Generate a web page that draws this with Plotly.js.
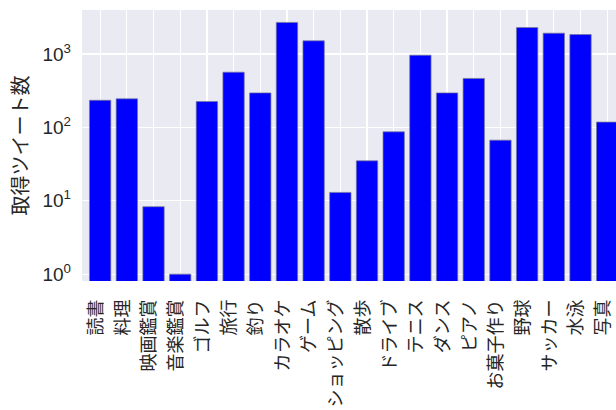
<!DOCTYPE html>
<html>
<head>
<meta charset="utf-8">
<script src="https://cdn.plot.ly/plotly-3.0.1.min.js"></script>
<style>html,body{margin:0;padding:0;background:#fff;}#chart{width:616px;height:410px;}</style>
</head>
<body>
<div id="chart"></div>
<script>
const categories = ['読書','料理','映画鑑賞','音楽鑑賞','ゴルフ','旅行','釣り','カラオケ','ゲーム','ショッピング','散歩','ドライブ','テニス','ダンス','ピアノ','お菓子作り','野球','サッカー','水泳','写真'];
const tweetCounts = [234, 245, 8.3, 1, 225, 565, 295, 2690, 1510, 13, 35, 87, 963, 295, 464, 67, 2290, 1920, 1840, 118];
const yTickVals = [1, 10, 100, 1000];
const yTickText = ['10<sup>0</sup>', '10<sup>1</sup>', '10<sup>2</sup>', '10<sup>3</sup>'];
const yTitle = '取得ツイート数';

const positions = categories.map((_, i) => i);
const xRange = [-0.68, 19.33];
const labelShift = 0.15;

const bars = {
  type: 'bar',
  x: positions,
  y: tweetCounts,
  width: 0.8,
  marker: { color: '#0000FF', line: { color: 'rgba(120,120,150,0.7)', width: 1 } },
  hoverinfo: 'x+y'
};
// invisible carrier so the label axis is drawn
const labelCarrier = {
  type: 'scatter',
  mode: 'none',
  x: positions,
  y: tweetCounts,
  xaxis: 'x2',
  hoverinfo: 'skip',
  showlegend: false
};

const layout = {
  width: 616, height: 410,
  margin: { l: 82, r: 0, t: 10, b: 129 },
  paper_bgcolor: '#ffffff',
  plot_bgcolor: '#EAEAF2',
  showlegend: false,
  bargap: 0.2,
  xaxis: {
    range: xRange,
    tickmode: 'array',
    tickvals: positions,
    showticklabels: false,
    showgrid: true, gridcolor: '#ffffff', gridwidth: 1.3,
    zeroline: false, showline: false,
    ticks: '',
    automargin: false
  },
  xaxis2: {
    overlaying: 'x',
    anchor: 'y',
    side: 'bottom',
    range: [xRange[0] + labelShift, xRange[1] + labelShift],
    tickmode: 'array',
    tickvals: positions,
    ticktext: categories,
    tickangle: -90,
    ticklabeloverflow: 'allow',
    showgrid: false, zeroline: false, showline: false,
    ticks: '', ticklabelstandoff: 14,
    tickfont: { family: 'Noto Sans CJK JP', size: 18, color: '#262626' },
    automargin: false
  },
  yaxis: {
    type: 'log',
    range: [-0.093, 3.599],
    tickmode: 'array',
    tickvals: yTickVals,
    ticktext: yTickText,
    showgrid: true, gridcolor: '#ffffff', gridwidth: 1.3,
    zeroline: false, showline: false,
    ticks: '', ticklabelstandoff: 10,
    tickfont: { family: 'Liberation Sans, Noto Sans', size: 19, color: '#262626' },
    title: { text: yTitle, font: { family: 'Noto Sans CJK JP', size: 20, color: '#262626' }, standoff: 8 },
    automargin: false
  }
};

Plotly.newPlot('chart', [bars, labelCarrier], layout, { staticPlot: true, displayModeBar: false });
</script>
</body>
</html>
